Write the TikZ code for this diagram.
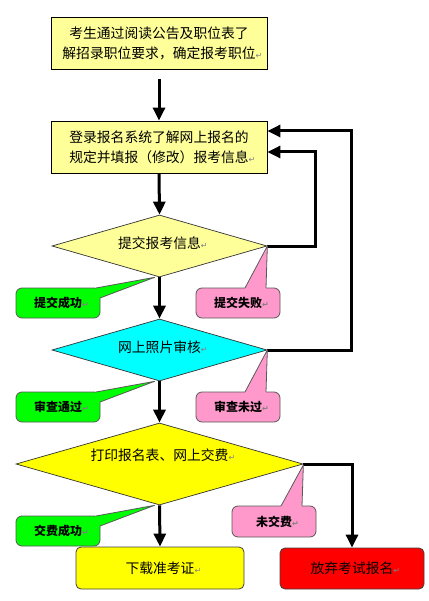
\documentclass[tikz,border=0pt]{standalone}
\usepackage{fontspec}
\setmainfont{Noto Sans CJK SC}
\newfontfamily\dvs{DejaVu Sans}
\usetikzlibrary{shapes.geometric,arrows.meta}
\definecolor{lyel}{HTML}{FFFF99}
\definecolor{gfill}{HTML}{00FF00}
\definecolor{pfill}{HTML}{FF99CC}
\definecolor{cyfill}{HTML}{00FFFF}
\definecolor{yfill}{HTML}{FFFF00}
\definecolor{rfill}{HTML}{FF0000}
\newcommand\retmk{\rlap{\dvs\fontsize{8}{8}\selectfont\color{gray}↵}}
\begin{document}
\begin{tikzpicture}[x=1pt,y=-1pt,
  box/.style={draw=black,line width=0.8pt,minimum width=216pt,minimum height=52pt,inner sep=0pt,align=center,font=\fontsize{13.8}{20}\selectfont},
  dia/.style={diamond,draw=black!80,line width=0.7pt,inner sep=0pt},
  ttext/.style={inner sep=0pt,font=\fontsize{13.8}{16}\selectfont},
  endbox/.style={rounded corners=5pt,draw=black!75,line width=0.8pt,inner sep=0pt,font=\fontsize{13.8}{16}\selectfont},
  callout/.style={rounded corners=6pt,draw=black!65,line width=0.8pt,minimum width=84pt,minimum height=30pt,inner sep=0pt,font=\bfseries\fontsize{12}{12}\selectfont},
  ptr/.style={draw=black!65,line width=0.8pt,line join=round},
  flow/.style={line width=3pt,-{Triangle[length=13pt,width=12pt]}}]
\useasboundingbox (0,0) rectangle (428,601);
% main boxes
\node[box,fill=lyel] (b1) at (159,43) {考生通过阅读公告及职位表了\\解招录职位要求，确定报考职位\retmk};
\node[box,fill=lyel] (b2) at (159,147) {登录报名系统了解网上报名的\\规定并填报（修改）报考信息\retmk};
\node[dia,fill=lyel,minimum width=215pt,minimum height=62pt] (d1) at (159.5,246) {};
\node[ttext] (t1) at (159.5,243) {提交报考信息\retmk};
\node[dia,fill=cyfill,minimum width=215pt,minimum height=62pt] (d2) at (159.5,350) {};
\node[ttext] (t2) at (159.5,347) {网上照片审核\retmk};
\node[dia,fill=yfill,minimum width=287pt,minimum height=82pt] (d3) at (159.5,464) {};
\node[ttext] (t3) at (159.5,455) {打印报名表、网上交费\retmk};
\node[endbox,fill=yfill,minimum width=168pt,minimum height=42pt] (dl) at (160,568) {下载准考证\retmk};
\node[endbox,fill=rfill,minimum width=144pt,minimum height=41pt] (ab) at (352,568.5) {放弃考试报名\retmk};
% connectors
\draw[flow] ([yshift=-10pt]b1.south) -- (b2.north);
\draw[flow] (b2.south) -- (d1.north);
\draw[flow] (d1.south) -- (d2.north);
\draw[flow] (d2.south) -- (d3.north);
\draw[flow] (d3.south) -- (dl.north);
\draw[flow] (d1.east) -- ++(48,0) |- ([yshift=-5pt]b2.east);
\draw[flow] (d2.east) -- ++(84,0) |- ([yshift=16pt]b2.east);
\draw[flow] (d3.east) -| (ab.north);
% callouts
\node[callout,fill=gfill] (c1) at (58,303) {提交成功\retmk};
\fill[gfill] (96,288) -- ([xshift=-5pt]d1.south) -- (100,298) -- (95,298) -- (95,289) -- cycle;
\draw[ptr] (96,288) -- ([xshift=-5pt]d1.south) -- (100,298);
\node[callout,fill=pfill] (p1) at (238,303) {提交失败\retmk};
\fill[pfill] (245,288) -- (d1.east) -- (266,288) -- (266,290) -- (245,290) -- cycle;
\draw[ptr] (245,288) -- (d1.east) -- (266,288);
\node[callout,fill=gfill] (c2) at (58,407) {审查通过\retmk};
\fill[gfill] (96,392) -- ([xshift=-5pt]d2.south) -- (100,402) -- (95,402) -- (95,393) -- cycle;
\draw[ptr] (96,392) -- ([xshift=-5pt]d2.south) -- (100,402);
\node[callout,fill=pfill] (p2) at (238,407) {审查未过\retmk};
\fill[pfill] (245,392) -- (d2.east) -- (266,392) -- (266,394) -- (245,394) -- cycle;
\draw[ptr] (245,392) -- (d2.east) -- (266,392);
\node[callout,fill=gfill] (c3) at (58,531) {交费成功\retmk};
\fill[gfill] (96,516) -- ([xshift=-5pt]d3.south) -- (100,526) -- (95,526) -- (95,517) -- cycle;
\draw[ptr] (96,516) -- ([xshift=-5pt]d3.south) -- (100,526);
\node[callout,fill=pfill,minimum height=31pt] (p3) at (274,521.5) {未交费\retmk};
\fill[pfill] (281,506) -- ([yshift=-1pt]d3.east) -- (302,506) -- (302,508) -- (281,508) -- cycle;
\draw[ptr] (281,506) -- ([yshift=-1pt]d3.east) -- (302,506);
\end{tikzpicture}
\end{document}
